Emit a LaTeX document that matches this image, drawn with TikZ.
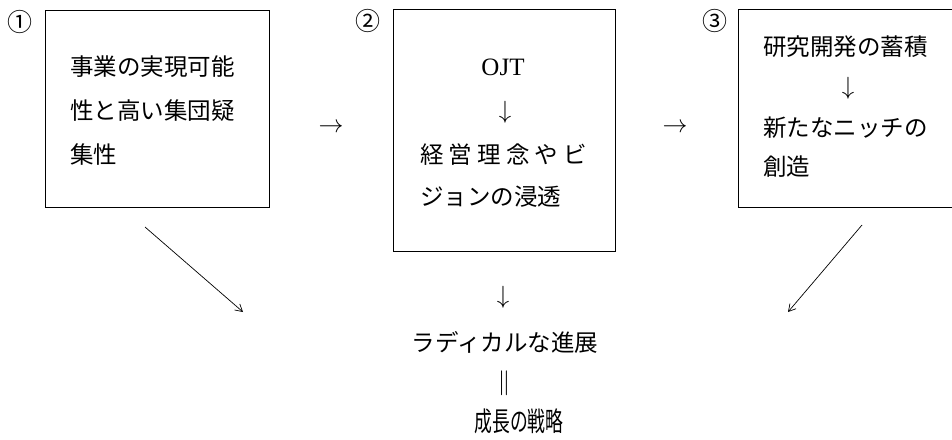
\documentclass[tikz,border=0pt]{standalone}
\usepackage{fontspec}
\setmainfont{Liberation Serif}
\newfontfamily\jp{Noto Sans CJK JP}
\usetikzlibrary{arrows.meta}
\begin{document}
\begin{tikzpicture}[x=1pt,y=-1pt,
  every node/.style={inner sep=0pt,outer sep=0pt},
  frame/.style={draw,line width=0.9pt},
  jtxt/.style={font=\jp\fontsize{23.5}{28}\selectfont},
  ltxt/.style={font=\fontsize{25}{28}\selectfont},
  sym/.style={font=\fontsize{26}{28}\selectfont},
  num/.style={font=\jp\fontsize{25}{28}\selectfont},
  diag/.style={line width=0.7pt,-{Straight Barb[length=7pt,width=8pt]}}]
\useasboundingbox (0,0) rectangle (952,439);
% boxes
\node[frame,minimum width=224pt,minimum height=197pt] (b1) at (157,108.5) {};
\node[frame,minimum width=222pt,minimum height=242pt] (b2) at (504,130) {};
\draw[line width=0.9pt] (960,9) -- (738,9) -- (738,207) -- (960,207);
\coordinate (b3) at (845,108);
% numbers
\node[num] (n1) at (20,22) {①};
\node[num] (n2) at (368,21) {②};
\node[num] (n3) at (715,21) {③};
% box 1 text
\node[jtxt,anchor=west] (t11) at (70,67) {事業の実現可能};
\node[jtxt,anchor=west] (t12) at (70,111) {性と高い集団疑};
\node[jtxt,anchor=west] (t13) at (70,155) {集性};
% box 2 text
\node[ltxt] (t21) at (503,67) {OJT};
\node[sym] (t22) at (505,112) {$\downarrow$};
\node[jtxt,anchor=west] (t23) at (420,155) {\makebox[167pt][s]{経\hfill 営\hfill 理\hfill 念\hfill や\hfill ビ}};
\node[jtxt,anchor=west] (t24) at (420,197) {ジョンの浸透};
% box 3 text
\node[jtxt,anchor=west] (t31) at (763,47) {研究開発の蓄積};
\node[sym] (t32) at (848,88) {$\downarrow$};
\node[jtxt,anchor=west] (t33) at (763,128) {新たなニッチの};
\node[jtxt,anchor=west] (t34) at (763,167) {創造};
% horizontal arrows between boxes
\node[sym] (h1) at (331,128) {$\rightarrow$};
\node[sym] (h2) at (675,128) {$\rightarrow$};
% bottom
\node[sym] (d1) at (503,297) {$\downarrow$};
\node[jtxt] (r1) at (505,342) {ラディカルな進展};
\node[sym] (eq) at (504,383) {$\|$};
\node[font=\jp\fontsize{27}{30}\selectfont] (r2) at (519,421) {\scalebox{0.66}[1]{成長の戦略}};
% diagonal arrows
\coordinate (la) at (145,227);
\coordinate (lb) at (243,312);
\coordinate (ra) at (862,225);
\coordinate (rb) at (788,312);
\draw[diag] (la) -- (lb);
\draw[diag] (ra) -- (rb);
\end{tikzpicture}
\end{document}
